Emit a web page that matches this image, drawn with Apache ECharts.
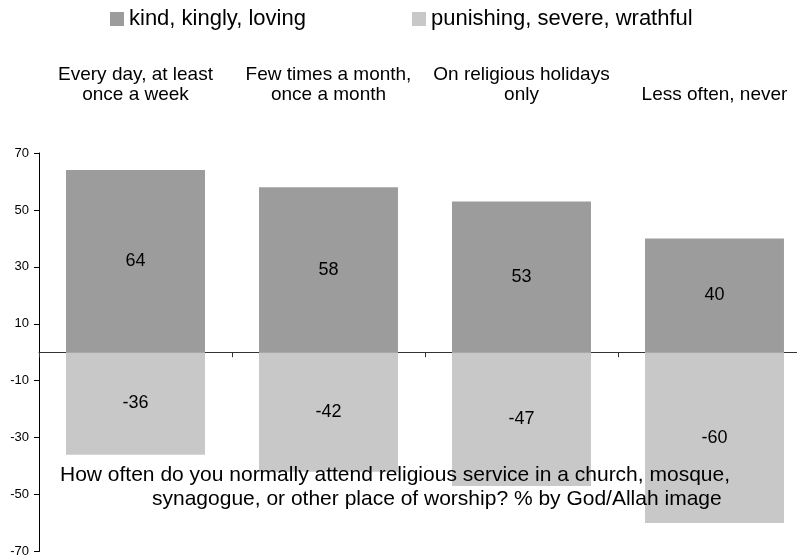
<!DOCTYPE html>
<html>
<head>
<meta charset="utf-8">
<script src="https://cdn.jsdelivr.net/npm/echarts@6/dist/echarts.min.js"></script>
<style>
  html, body { margin: 0; padding: 0; background: #fff; width: 797px; height: 558px; overflow: hidden; }
  /* the plot runs a little past the right edge of the page */
  #chart { width: 811px; height: 558px; }
</style>
</head>
<body>
<div id="chart"></div>
<script>
// Attendance frequency groups
const categories = [
  'Every day, at least\nonce a week',
  'Few times a month,\nonce a month',
  'On religious holidays\nonly',
  'Less often, never'
];
// Share of respondents per God/Allah image (%)
const kindValues = [64, 58, 53, 40];
const punishingValues = [-36, -42, -47, -60];
const seriesNames = ['kind, kingly, loving', 'punishing, severe, wrathful'];
const yTicks = [-70, -50, -30, -10, 10, 30, 50, 70];
const captionLines = [
  'How often do you normally attend religious service in a church, mosque,',
  'synagogue, or other place of worship? % by God/Allah image'
];

const FONT = '"Liberation Sans", Arial, sans-serif';
const chart = echarts.init(document.getElementById('chart'), null, { renderer: 'canvas' });

const labelStyle = {
  show: true,
  position: 'inside',
  color: '#000',
  fontSize: 18,
  fontFamily: FONT
};

const legendText = { fontSize: 22, color: '#000', fontFamily: FONT };
const captionText = { fontSize: 21, fontWeight: 'normal', color: '#000', fontFamily: FONT };

chart.setOption({
  animation: false,
  backgroundColor: '#ffffff',
  textStyle: { fontFamily: FONT },
  legend: [
    {
      top: 3, left: 105, icon: 'rect', itemWidth: 14, itemHeight: 14,
      textStyle: legendText, data: [seriesNames[0]]
    },
    {
      top: 3, left: 407, icon: 'rect', itemWidth: 14, itemHeight: 14,
      textStyle: legendText, data: [seriesNames[1]]
    }
  ],
  title: [
    { text: captionLines[0], left: 55, top: 460, textStyle: captionText },
    { text: captionLines[1], left: 147, top: 484, textStyle: captionText }
  ],
  grid: { left: 39, top: 153, right: 0, height: 399 },
  xAxis: [
    {
      type: 'category',
      data: categories,
      position: 'bottom',
      axisLine: { onZero: true, lineStyle: { color: '#333', width: 1 } },
      axisTick: { show: true, length: 5, lineStyle: { color: '#333' } },
      axisLabel: { show: false },
      splitLine: { show: false }
    },
    {
      type: 'category',
      data: categories,
      position: 'top',
      axisLine: { show: false, onZero: false },
      axisTick: { show: false },
      axisLabel: {
        show: true,
        interval: 0,
        hideOverlap: false,
        margin: 48,
        color: '#000',
        fontSize: 19,
        lineHeight: 20,
        fontFamily: FONT,
        align: 'center'
      },
      splitLine: { show: false }
    }
  ],
  yAxis: {
    type: 'value',
    min: -70,
    max: 70,
    interval: 10,
    axisLine: { show: true, lineStyle: { color: '#000', width: 1 } },
    axisTick: { show: true, length: 5, customValues: yTicks, lineStyle: { color: '#000' } },
    axisLabel: { show: true, customValues: yTicks, margin: 10, color: '#000', fontSize: 13, fontFamily: FONT },
    splitLine: { show: false }
  },
  series: [
    {
      name: seriesNames[0],
      type: 'bar',
      stack: 'image',
      xAxisIndex: 0,
      barCategoryGap: '28%',
      data: kindValues,
      itemStyle: { color: '#9c9c9c' },
      label: labelStyle
    },
    {
      name: seriesNames[1],
      type: 'bar',
      stack: 'image',
      xAxisIndex: 0,
      barCategoryGap: '28%',
      data: punishingValues,
      itemStyle: { color: '#c8c8c8' },
      label: labelStyle
    }
  ]
});
</script>
</body>
</html>
